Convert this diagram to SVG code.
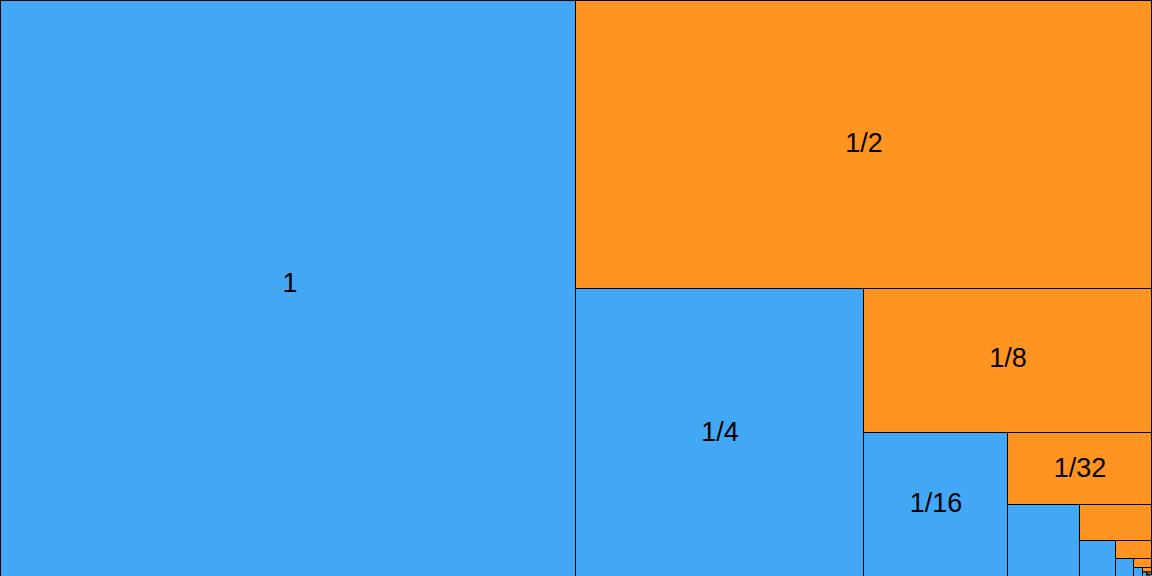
<svg xmlns="http://www.w3.org/2000/svg" width="1152" height="576" viewBox="0 0 1152 576">
<style>
.b{fill:#42a7f5;stroke:#000;stroke-width:1}
.o{fill:#ff9420;stroke:#000;stroke-width:1}
.t{font-family:"Liberation Sans",Arial,sans-serif;font-size:27px;fill:#000;text-anchor:middle;dominant-baseline:central}
</style>
<rect width="1152" height="576" fill="#42a7f5"/>
<g id="n1"><rect class="b" x="0.5" y="0.5" width="575" height="576"/><text class="t" x="290" y="283">1</text></g>
<g id="n2"><rect class="o" x="575.5" y="0.5" width="576" height="288"/><text class="t" x="864" y="143">1/2</text></g>
<g id="n4"><rect class="b" x="575.5" y="288.5" width="288" height="288"/><text class="t" x="720" y="432">1/4</text></g>
<g id="n8"><rect class="o" x="863.5" y="288.5" width="288" height="144"/><text class="t" x="1008" y="358">1/8</text></g>
<g id="n16"><rect class="b" x="863.5" y="432.5" width="144" height="144"/><text class="t" x="936" y="503">1/16</text></g>
<g id="n32"><rect class="o" x="1007.5" y="432.5" width="144" height="72"/><text class="t" x="1080" y="468">1/32</text></g>
<g id="n64"><rect class="b" x="1007.5" y="504.5" width="72" height="72"/></g>
<g id="n128"><rect class="o" x="1079.5" y="504.5" width="72" height="36"/></g>
<g id="n256"><rect class="b" x="1079.5" y="540.5" width="36" height="36"/></g>
<g id="n512"><rect class="o" x="1115.5" y="540.5" width="36" height="18"/></g>
<g id="n1024"><rect class="b" x="1115.5" y="558.5" width="18" height="18"/></g>
<g id="n2048"><rect class="o" x="1133.5" y="558.5" width="18" height="9"/></g>
<g id="n4096"><rect class="b" x="1133.5" y="567.5" width="9" height="9"/></g>
<g id="n8192"><rect class="o" x="1142.5" y="567.5" width="9" height="4.5"/></g>
<g id="n16384"><rect class="b" x="1142.5" y="572" width="4.5" height="4.5"/></g>
<g id="n32768"><rect class="o" x="1147" y="572" width="4.5" height="2.25"/></g>
<g id="n65536"><rect class="b" x="1147" y="574.25" width="2.25" height="2.25"/></g>
<g id="connectors"></g>
</svg>
